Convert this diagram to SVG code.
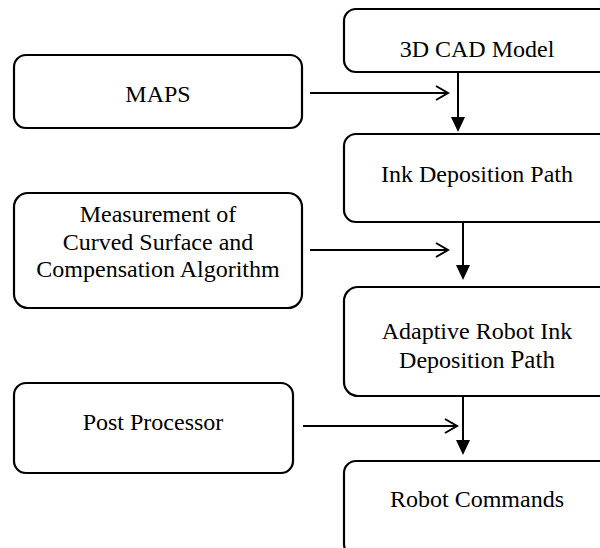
<svg xmlns="http://www.w3.org/2000/svg" width="600" height="548" viewBox="0 0 600 548">
<style>
.box{fill:#fff;stroke:#000;stroke-width:2.2}
.t{font-family:"Liberation Serif","Times New Roman",serif;font-size:24px;fill:#000;text-anchor:middle}
.ln{stroke:#000;stroke-width:2;fill:none}
.tri{fill:#000;stroke:none}
</style>
<rect width="600" height="548" fill="#fff"/>
<g id="cad"><rect class="box" x="344" y="9" width="270" height="63" rx="12"/><text class="t" x="477" y="57">3D CAD Model</text></g>
<g id="maps"><rect class="box" x="14" y="55" width="288" height="73" rx="12"/><text class="t" x="158" y="102">MAPS</text></g>
<g id="ink"><rect class="box" x="344" y="134" width="270" height="88" rx="12"/><text class="t" x="477" y="182">Ink Deposition Path</text></g>
<g id="measure"><rect class="box" x="14" y="193" width="288" height="115" rx="14"/><text class="t" x="158" y="222">Measurement of</text><text class="t" x="158" y="250">Curved Surface and</text><text class="t" x="158" y="277">Compensation Algorithm</text></g>
<g id="adaptive"><rect class="box" x="344" y="287" width="270" height="109" rx="14"/><text class="t" x="477" y="339">Adaptive Robot Ink</text><text class="t" x="477" y="368">Deposition <tspan font-size="25px">Path</tspan></text></g>
<g id="post"><rect class="box" x="14" y="383" width="279" height="90" rx="12"/><text class="t" x="153" y="430">Post Processor</text></g>
<g id="robot"><rect class="box" x="344" y="461" width="270" height="95" rx="12"/><text class="t" x="477" y="507">Robot Commands</text></g>
<g id="connectors">
<line class="ln" x1="458" y1="72" x2="458" y2="119"/><path class="tri" d="M451,117 L465,117 L458,132 Z"/>
<line class="ln" x1="463" y1="222" x2="463" y2="267"/><path class="tri" d="M456,265 L470,265 L463,280 Z"/>
<line class="ln" x1="463" y1="396" x2="463" y2="442"/><path class="tri" d="M456,440 L470,440 L463,455 Z"/>
<line class="ln" x1="310" y1="93" x2="447" y2="93"/><path class="ln" d="M436,86 L448,93 L436,100"/>
<line class="ln" x1="310" y1="250" x2="447" y2="250"/><path class="ln" d="M436,243 L448,250 L436,257"/>
<line class="ln" x1="303" y1="426" x2="456" y2="426"/><path class="ln" d="M445,419 L457,426 L445,433"/>
</g>
</svg>
